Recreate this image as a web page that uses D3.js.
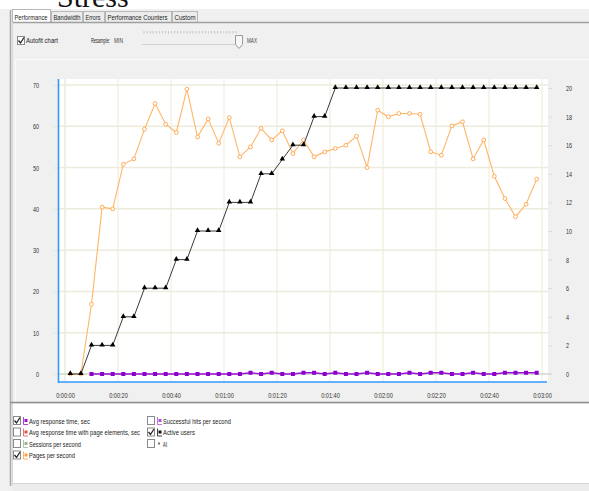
<!DOCTYPE html>
<html>
<head>
<meta charset="utf-8">
<script src="https://cdn.jsdelivr.net/npm/d3@7"></script>
<style>
  body { margin: 0; background: #fff; }
  svg { display: block; font-family: "Liberation Sans", Arial, sans-serif; }
</style>
</head>
<body>
<script>
'use strict';

// sample times in seconds (one point every 4 s)
const times = [2, 6, 10, 14, 18, 22, 26, 30, 34, 38, 42, 46, 50, 54, 58, 62, 66, 70, 74, 78,
  82, 86, 90, 94, 98, 102, 106, 110, 114, 118, 122, 126, 130, 134, 138, 142, 146, 150, 154, 158,
  162, 166, 170, 174, 178];

// Pages per second (left axis)
const pagesPerSecond = [0, 0, 16.9, 40.4, 40.0, 50.8, 52.1, 59.3, 65.5, 60.5, 58.5, 69.0, 57.4, 61.8, 55.9,
  62.1, 52.6, 55.0, 59.5, 56.7, 58.9, 53.4, 56.7, 52.6, 53.8, 54.6, 55.4, 57.6, 50.0, 63.9,
  62.3, 63.1, 63.1, 62.9, 53.8, 53.0, 60.1, 61.1, 52.1, 56.7, 47.9, 42.5, 38.1, 41.1, 47.2];

// Active users (right axis)
const activeUsers = [0, 0, 2, 2, 2, 4, 4, 6, 6, 6, 8, 8, 10, 10, 10, 12, 12, 12, 14, 14, 15, 16, 16, 18, 18,
  20, 20, 20, 20, 20, 20, 20, 20, 20, 20, 20, 20, 20, 20, 20, 20, 20, 20, 20, 20];

// Avg response time, sec (left axis), no value for the first two samples
const avgResponse = [null, null, 0, 0, 0, 0, 0, 0, 0, 0, 0, 0, 0, 0, 0, 0, 0, 0.3, 0, 0.3, 0, 0, 0.3, 0.3, 0,
  0.3, 0, 0, 0.3, 0, 0, 0, 0.3, 0, 0.3, 0.3, 0, 0, 0.3, 0, 0, 0.3, 0.3, 0.3, 0.3];

const leftTicks = [0, 10, 20, 30, 40, 50, 60, 70];
const rightTicks = [0, 2, 4, 6, 8, 10, 12, 14, 16, 18, 20];
const timeTicks = [0, 20, 40, 60, 80, 100, 120, 140, 160, 180];
const timeLabels = ["0:00:00", "0:00:20", "0:00:40", "0:01:00", "0:01:20", "0:01:40", "0:02:00", "0:02:20", "0:02:40", "0:03:00"];

const tabNames = ["Performance", "Bandwidth", "Errors", "Performance Counters", "Custom"];

// legend: label, checked, colour, column
const legendLabels = ["Avg response time, sec", "Avg response time with page elements, sec", "Sessions per second",
  "Pages per second", "Successful hits per second", "Active users", "All"];
const legendChecked = [true, false, false, true, false, true, false];
const legendColors = ["#9a10d8", "#e05050", "#90b890", "#ffa040", "#b050e0", "#111111", "#777777"];
const legendColumn = [0, 0, 0, 0, 1, 1, 1];

const W = 589, H = 491;
const svg = d3.select('body').append('svg').attr('width', W).attr('height', H);

// squeeze tick text by a factor, the original UI font is very narrow
function squeeze(sel, k) {
  sel.each(function() {
    const w = this.getComputedTextLength();
    d3.select(this).attr('textLength', w * k).attr('lengthAdjust', 'spacingAndGlyphs');
  });
}
// UI label squeezed horizontally to a given width
function label(xp, yp, txt, w, color) {
  const t = svg.append('text')
    .style('font-size', '8px').attr('fill', color || '#222')
    .text(txt);
  const k = w / t.node().getComputedTextLength();
  t.attr('transform', `translate(${xp}, ${yp}) scale(${k}, 1)`);
  return t;
}

// ---------- window chrome ----------
svg.append('rect').attr('x', 0).attr('y', 9).attr('width', W).attr('height', H - 9).attr('fill', '#f0f0f0');

svg.append('text')
  .attr('x', 57).attr('y', 7)
  .style('font-family', '"Liberation Serif", serif')
  .style('font-size', '30px')
  .attr('fill', '#111')
  .text('Stress');

// tabs
const tabX = [12, 51, 83, 105, 172];
const tabW = [38, 31, 21, 66, 25];
const tabTextW = [33, 27, 15, 60, 21];
tabNames.forEach((name, i) => {
  svg.append('rect')
    .attr('x', tabX[i] + 0.5).attr('y', i === 0 ? 9.5 : 11.5)
    .attr('width', tabW[i]).attr('height', i === 0 ? 13 : 11)
    .attr('fill', i === 0 ? '#ffffff' : '#ececec')
    .attr('stroke', '#b8b8b8');
  label(tabX[i] + 2.5, 20, name, tabTextW[i]);
});
svg.append('line').attr('x1', 12).attr('x2', W).attr('y1', 22.5).attr('y2', 22.5).attr('stroke', '#a0a0a0').attr('stroke-width', 1.5);

// left frame
svg.append('line').attr('x1', 10.5).attr('x2', 10.5).attr('y1', 10).attr('y2', 486).attr('stroke', '#a8a8a8').attr('stroke-width', 1.5);
svg.append('line').attr('x1', 12.5).attr('x2', 12.5).attr('y1', 22).attr('y2', 486).attr('stroke', '#d8d8d8');

// toolbar: autofit checkbox and resample slider
function checkbox(x, y, checked) {
  svg.append('rect').attr('x', x + 0.5).attr('y', y + 0.5).attr('width', 7).attr('height', 8)
    .attr('fill', '#fff').attr('stroke', '#8a8a8a');
  if (checked) {
    svg.append('path')
      .attr('d', `M${x + 1.5},${y + 4.5} L${x + 3.5},${y + 7} L${x + 7},${y + 1.5}`)
      .attr('fill', 'none').attr('stroke', '#222').attr('stroke-width', 1.3);
  }
}
checkbox(17, 36, true);
label(26, 43, 'Autofit chart', 32);
label(91, 43, 'Resample:', 19);
label(114, 43, 'MIN', 9, '#444');
label(247, 43, 'MAX', 10, '#444');

const slider = d3.scaleLinear().domain([0, 30]).range([144, 236]);
svg.append('g').selectAll('line')
  .data(d3.range(31))
  .enter().append('line')
  .attr('x1', d => slider(d)).attr('x2', d => slider(d))
  .attr('y1', 31).attr('y2', 33.5)
  .attr('stroke', '#c4c4c4');
svg.append('line').attr('x1', 142).attr('x2', 240).attr('y1', 44.5).attr('y2', 44.5).attr('stroke', '#d0d0d0');
svg.append('path').attr('d', 'M235.5,35.5 h7 v9 l-3.5,4 l-3.5,-4 Z').attr('fill', '#f6f6f6').attr('stroke', '#9a9a9a');

// faint inner panel border
svg.append('path').attr('d', `M15.5,${H - 87} V59.5 H${W}`).attr('fill', 'none').attr('stroke', '#fafafa');

// ---------- chart ----------
const plotLeft = 58, plotRight = 548, plotTop = 79, plotBottom = 382;

const x = d3.scaleLinear().domain([0, 180]).range([65, 542]);
const yL = d3.scaleLinear().domain([0, 70]).range([374, 85]);
const yR = d3.scaleLinear().domain([0, 20]).range([374, 88]);

svg.append('rect')
  .attr('x', plotLeft).attr('y', plotTop)
  .attr('width', plotRight - plotLeft).attr('height', plotBottom - plotTop)
  .attr('fill', '#ffffff');

// grid lines
svg.append('g').selectAll('line')
  .data(timeTicks)
  .enter().append('line')
  .attr('x1', d => x(d)).attr('x2', d => x(d))
  .attr('y1', plotTop).attr('y2', plotBottom)
  .attr('stroke', d => d === 0 ? '#dfe9d8' : '#efeede')
  .attr('stroke-width', 1.2);

svg.append('g').selectAll('line')
  .data(leftTicks)
  .enter().append('line')
  .attr('x1', plotLeft).attr('x2', plotRight)
  .attr('y1', d => yL(d)).attr('y2', d => yL(d))
  .attr('stroke', d => d === 0 ? '#c9dcc4' : '#ecebdc')
  .attr('stroke-width', 1.5);
svg.append('line')
  .attr('x1', plotRight).attr('x2', 552)
  .attr('y1', yL(0)).attr('y2', yL(0))
  .attr('stroke', '#c9dcc4').attr('stroke-width', 1.2);

// left axis
const yAxisL = d3.axisLeft(yL).tickValues(leftTicks).tickSize(5).tickPadding(14);
const gL = svg.append('g').attr('transform', `translate(${plotLeft}, 0)`).call(yAxisL);
gL.select('.domain').remove();
gL.selectAll('.tick line').attr('stroke', '#e6e6da');
gL.selectAll('text').style('font-size', '8px').attr('fill', '#333').attr('font-family', null);
squeeze(gL.selectAll('text'), 0.68);

// right axis
const yAxisR = d3.axisRight(yR).tickValues(rightTicks).tickSize(4).tickPadding(14);
const gR = svg.append('g').attr('transform', `translate(${plotRight}, 0)`).call(yAxisR);
gR.select('.domain').remove();
gR.selectAll('.tick line').attr('stroke', '#dcdcdc');
gR.selectAll('text').style('font-size', '8px').attr('fill', '#333').attr('font-family', null);
squeeze(gR.selectAll('text'), 0.68);

// bottom axis
const xAxis = d3.axisBottom(x).tickValues(timeTicks).tickFormat((d, i) => timeLabels[i]).tickSize(0).tickPadding(10);
const gX = svg.append('g').attr('transform', `translate(0, ${plotBottom})`).call(xAxis);
gX.select('.domain').remove();
gX.selectAll('text').style('font-size', '8px').attr('fill', '#333').attr('font-family', null);
squeeze(gX.selectAll('text'), 0.7);

// blue axis lines
svg.append('line').attr('x1', plotLeft + 0.5).attr('x2', plotLeft + 0.5).attr('y1', plotTop).attr('y2', plotBottom + 1)
  .attr('stroke', '#3399ff').attr('stroke-width', 1.6);
svg.append('line').attr('x1', plotLeft).attr('x2', 547).attr('y1', plotBottom).attr('y2', plotBottom)
  .attr('stroke', '#3399ff').attr('stroke-width', 1.6);

// series
const pagesData = times.map((t, i) => ({ t: t, v: pagesPerSecond[i] }));
const usersData = times.map((t, i) => ({ t: t, v: activeUsers[i] }));
const respData = times.map((t, i) => ({ t: t, v: avgResponse[i] })).filter(d => d.v !== null);

// pages per second
svg.append('path')
  .datum(pagesData)
  .attr('d', d3.line().x(d => x(d.t)).y(d => yL(d.v)))
  .attr('fill', 'none').attr('stroke', '#ffb566').attr('stroke-width', 1.1);
svg.append('g').selectAll('circle')
  .data(pagesData)
  .enter().append('circle')
  .attr('cx', d => x(d.t)).attr('cy', d => yL(d.v)).attr('r', 1.9)
  .attr('fill', '#fff').attr('stroke', '#ffa347').attr('stroke-width', 0.9);

// active users
svg.append('path')
  .datum(usersData)
  .attr('d', d3.line().x(d => x(d.t)).y(d => yR(d.v)))
  .attr('fill', 'none').attr('stroke', '#3a3a3a').attr('stroke-width', 1);
svg.append('g').selectAll('path')
  .data(usersData)
  .enter().append('path')
  .attr('d', d3.symbol(d3.symbolTriangle).size(13))
  .attr('transform', d => `translate(${x(d.t)}, ${yR(d.v) - 0.5})`)
  .attr('fill', '#000');

// avg response time
svg.append('path')
  .datum(respData)
  .attr('d', d3.line().x(d => x(d.t)).y(d => yL(d.v)))
  .attr('fill', 'none').attr('stroke', '#9a10d8').attr('stroke-width', 1.4);
svg.append('g').selectAll('rect')
  .data(respData)
  .enter().append('rect')
  .attr('x', d => x(d.t) - 2).attr('y', d => yL(d.v) - 2)
  .attr('width', 4).attr('height', 4)
  .attr('fill', '#8c00cc');

// ---------- legend panel ----------
svg.append('rect').attr('x', 13).attr('y', 404).attr('width', W - 13).attr('height', 79).attr('fill', '#ffffff');
svg.append('line').attr('x1', 10).attr('x2', W).attr('y1', 402.5).attr('y2', 402.5).attr('stroke', '#8e8e8e').attr('stroke-width', 1.6);
svg.append('line').attr('x1', 13).attr('x2', W).attr('y1', 483.5).attr('y2', 483.5).attr('stroke', '#d4d4d4');
svg.append('rect').attr('x', 13).attr('y', 484).attr('width', W - 13).attr('height', 7).attr('fill', '#ececec');

const legendTextW = [61, 111, 52, 46, 68, 32, 4];
const colX = [13, 147];
const rowCount = [0, 0];
legendLabels.forEach((name, i) => {
  const c = legendColumn[i];
  const r = rowCount[c]++;
  const cx = colX[c];
  const cy = 416 + r * 11.5;
  checkbox(cx, cy, legendChecked[i]);
  // tiny series icon
  if (name === 'All') {
    svg.append('rect').attr('x', cx + 11).attr('y', cy + 3.5).attr('width', 2).attr('height', 2).attr('fill', legendColors[i]);
  } else {
    svg.append('path')
      .attr('d', `M${cx + 10.5},${cy + 1} V${cy + 8.5} H${cx + 15}`)
      .attr('fill', 'none').attr('stroke', legendColors[i]).attr('stroke-width', 0.8);
    svg.append('rect').attr('x', cx + 11.5).attr('y', cy + 3).attr('width', 3).attr('height', 3).attr('fill', legendColors[i]);
  }
  label(cx + 16, cy + 7.5, name, legendTextW[i]);
});
</script>
</body>
</html>
